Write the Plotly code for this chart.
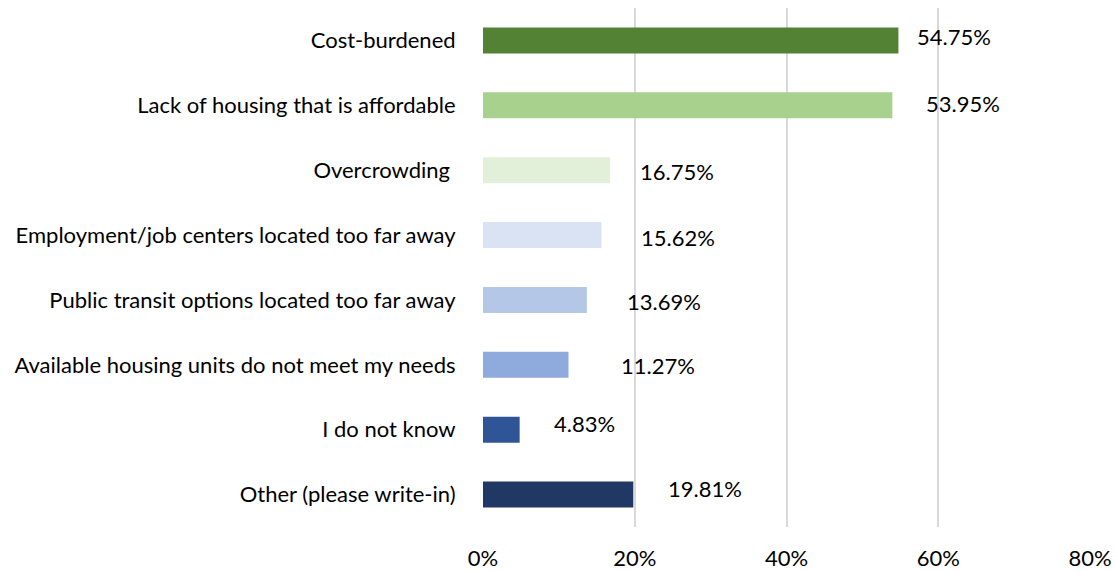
import plotly.graph_objects as go

# Survey responses: barriers to housing
categories = [
    "Cost-burdened",
    "Lack of housing that is affordable",
    "Overcrowding ",
    "Employment/job centers located too far away",
    "Public transit options located too far away",
    "Available housing units do not meet my needs",
    "I do not know",
    "Other (please write-in)",
]
values = [54.75, 53.95, 16.75, 15.62, 13.69, 11.27, 4.83, 19.81]
value_labels = ["54.75%", "53.95%", "16.75%", "15.62%", "13.69%", "11.27%", "4.83%", "19.81%"]
x_tick_vals = [0, 20, 40, 60, 80]
x_tick_text = ["0%", "20%", "40%", "60%", "80%"]

bar_colors = ["#548235", "#A9D18E", "#E2F0D9", "#DAE3F3",
              "#B4C7E7", "#8FAADC", "#2F5597", "#203864"]
# pixel nudges for the value labels (x, y)
label_dx = [17, 32, 28, 37, 38, 50, 32, 33]
label_dy = [4, 2, -1, -2, -2, -1, 6, 6]

FONT = "Lato"
SIZE = 22

fig = go.Figure()
fig.add_trace(go.Bar(
    x=values,
    y=categories,
    orientation="h",
    marker=dict(color=bar_colors, line=dict(width=0)),
    width=0.4,
    hoverinfo="skip",
))

for cat, v, lab, dx, dy in zip(categories, values, value_labels, label_dx, label_dy):
    fig.add_annotation(
        x=v, y=cat, text=lab, showarrow=False,
        xanchor="left", yanchor="middle",
        xshift=dx, yshift=dy,
        font=dict(family=FONT, size=SIZE, color="#000000"),
    )

fig.update_layout(
    width=1115, height=572,
    margin=dict(l=483, r=25, t=7.5, b=44.5),
    plot_bgcolor="white", paper_bgcolor="white",
    showlegend=False,
    font=dict(family=FONT, size=SIZE, color="#000000"),
)
fig.update_xaxes(
    range=[0, 80],
    tickvals=x_tick_vals, ticktext=x_tick_text,
    showgrid=True, gridcolor="#D9D9D9", gridwidth=2,
    zeroline=False, showline=False,
    ticks="outside", ticklen=12, tickcolor="rgba(0,0,0,0)",
    automargin=False,
    fixedrange=True,
)
fig.update_yaxes(
    categoryorder="array", categoryarray=categories,
    autorange="reversed",
    showgrid=False, zeroline=False, showline=False,
    ticks="outside", ticklen=22, tickcolor="rgba(0,0,0,0)",
    automargin=False,
    fixedrange=True,
)

fig.write_html("out.html")
